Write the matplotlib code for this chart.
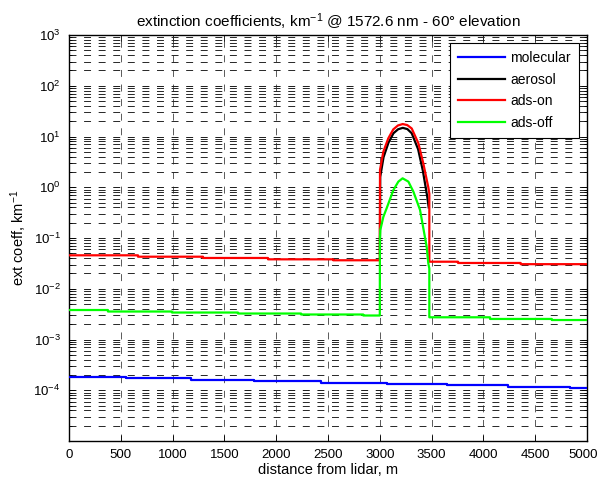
import numpy as np
import matplotlib
matplotlib.use("Agg")
import matplotlib.pyplot as plt
import matplotlib.transforms as mtransforms
from matplotlib.ticker import FixedLocator, FixedFormatter, LogLocator, NullFormatter

plt.rcParams['font.family'] = ['Liberation Sans', 'DejaVu Sans']
plt.rcParams['mathtext.fontset'] = 'custom'
plt.rcParams['mathtext.rm'] = 'Liberation Sans'
plt.rcParams['mathtext.it'] = 'Liberation Sans:italic'
plt.rcParams['lines.scale_dashes'] = False

# ---------------- data ----------------
# step-wise background profiles: edges (m) and values (km^-1)
mol_edges = [0, 550, 1180, 1790, 2435, 3065, 3645, 4237, 4836, 5000]
mol_vals = [1.82e-4, 1.71e-4, 1.61e-4, 1.52e-4, 1.39e-4, 1.33e-4, 1.25e-4, 1.18e-4, 1.11e-4]

on_pre_edges = [0, 666, 1293, 1921, 2550, 3000]
on_pre_vals = [0.0456, 0.0428, 0.0404, 0.0380, 0.0364]
on_post_edges = [3478, 3755, 4360, 5000]
on_post_vals = [0.0341, 0.0322, 0.0305]

off_pre_edges = [0, 376, 994, 1631, 2240, 2840, 3000]
off_pre_vals = [0.00381, 0.00356, 0.00340, 0.00325, 0.00311, 0.00297]
off_post_edges = [3478, 4064, 4660, 5000]
off_post_vals = [0.00274, 0.00254, 0.00242]

# cloud layer (3000-3500 m)
on_cloud_d = [3000, 3002, 3034, 3082, 3130, 3175, 3221, 3265, 3308, 3372, 3420, 3468, 3478]
on_cloud_v = [0.0364, 2.2, 5.0, 9.2, 13.8, 16.5, 17.6, 16.8, 14.4, 7.4, 2.95, 1.0, 0.75]

aer_cloud_d = [3001, 3004, 3036, 3084, 3132, 3177, 3222, 3266, 3308, 3370, 3416, 3458, 3472]
aer_cloud_v = [0.05, 1.6, 3.9, 7.6, 11.6, 13.9, 14.8, 14.0, 11.6, 5.6, 2.1, 0.65, 0.4]

off_cloud_d = [3000, 3001, 3005, 3034, 3067, 3131, 3179, 3220, 3276, 3324, 3388, 3452, 3468, 3478]
off_cloud_v = [0.00297, 0.09, 0.144, 0.26, 0.39, 0.88, 1.29, 1.5, 1.29, 0.82, 0.36, 0.068, 0.032, 0.025]

xticks = [0, 500, 1000, 1500, 2000, 2500, 3000, 3500, 4000, 4500, 5000]
ydecades = [-5, -4, -3, -2, -1, 0, 1, 2, 3]


def steps(edges, vals):
    xs, ys = [], []
    for i, v in enumerate(vals):
        xs += [edges[i], edges[i + 1]]
        ys += [v, v]
    return xs, ys


mx, my = steps(mol_edges, mol_vals)
a1x, a1y = steps(on_pre_edges, on_pre_vals)
a2x, a2y = steps(on_post_edges, on_post_vals)
onx = a1x + on_cloud_d + a2x
ony = a1y + on_cloud_v + a2y
b1x, b1y = steps(off_pre_edges, off_pre_vals)
b2x, b2y = steps(off_post_edges, off_post_vals)
offx = b1x + off_cloud_d + b2x
offy = b1y + off_cloud_v + b2y

# ---------------- figure ----------------
fig = plt.figure(figsize=(6.0, 4.87), dpi=100)
ax = fig.add_axes([69 / 600, 1 - 441 / 487, (587 - 69) / 600, (441 - 35) / 487])

lw = 1.6
ax.plot(mx, my, color='#0000ff', lw=lw, label='molecular', zorder=3)
ax.plot(aer_cloud_d, aer_cloud_v, color='black', lw=lw, label='aerosol', zorder=3)
ax.plot(onx, ony, color='#ff0000', lw=lw, label='ads-on', zorder=3)
ax.plot(offx, offy, color='#00ff00', lw=lw, label='ads-off', zorder=3)

ax.set_yscale('log')
ax.set_xlim(0, 5000)
ax.set_ylim(1e-5, 1e3)

fs_tick = 9.5
fs_lab = 10.5

ax.xaxis.set_major_locator(FixedLocator(xticks))
ax.set_xticklabels([str(t) for t in xticks])
yt = [10.0 ** d for d in ydecades]
ax.yaxis.set_major_locator(FixedLocator(yt))
ax.yaxis.set_major_formatter(FixedFormatter([''] + ['$10^{%d}$' % d for d in ydecades[1:]]))
ax.yaxis.set_minor_locator(LogLocator(base=10, subs=np.arange(2, 10), numticks=100))
ax.yaxis.set_minor_formatter(NullFormatter())

dash = (0, (5.0, 5.5))
ax.grid(True, which='major', axis='y', color='0.1', lw=0.7, linestyle=dash)
ax.grid(True, which='minor', axis='y', color='0.15', lw=0.7, linestyle=dash)
ax.grid(True, which='major', axis='x', color='0.35', lw=0.7, linestyle=dash)
ax.set_axisbelow(True)

ax.tick_params(which='both', direction='in', top=True, right=True, labelsize=fs_tick,
               width=0.6, color='black')
ax.tick_params(which='major', length=4)
ax.tick_params(which='minor', length=2)
ax.tick_params(axis='x', pad=6)
ax.tick_params(axis='y', pad=6)
for s in ax.spines.values():
    s.set_linewidth(1.0)

# nudge the last x tick label slightly inward so it stays inside the figure
last = ax.get_xticklabels()[-1]
last.set_transform(last.get_transform() +
                   mtransforms.ScaledTranslation(-3.5 / 100, 0, fig.dpi_scale_trans))

ax.set_title('extinction coefficients, km$^{-1}$ @ 1572.6 nm - 60° elevation',
             fontsize=11, pad=6)
ax.set_xlabel('distance from lidar, m', fontsize=fs_lab, labelpad=1)
ax.set_ylabel('ext coeff, km$^{-1}$', fontsize=fs_lab, labelpad=3)

leg = ax.legend(loc='upper right', fontsize=10, frameon=True, fancybox=False,
                handlelength=3.4, borderaxespad=0.6, labelspacing=0.55,
                handletextpad=0.4, borderpad=0.55)
leg.get_frame().set_edgecolor('black')
leg.get_frame().set_linewidth(0.8)
leg.get_frame().set_alpha(1.0)

fig.savefig('out.png', dpi=100)
